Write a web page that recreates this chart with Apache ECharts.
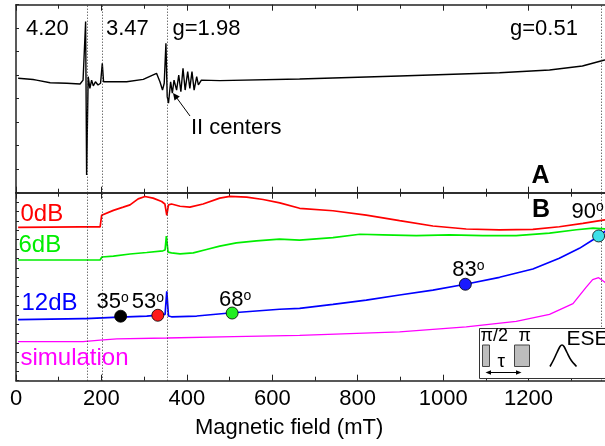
<!DOCTYPE html>
<html>
<head>
<meta charset="utf-8">
<script src="https://cdn.jsdelivr.net/npm/echarts@6/dist/echarts.min.js"></script>
<style>html,body{margin:0;padding:0;background:#fff}#c{width:605px;height:446px}</style>
</head>
<body>
<div id="c"></div>
<script>
// ---- data (field in mT, intensity in a.u.) ----
const xTicks = [0, 200, 400, 600, 800, 1000, 1200, 1400];
const gFactorFields = [166, 201, 353, 1369];
const traceCW = [[5,60.9],[40,60.2],[44,60.7],[48,59.9],[80,58.5],[119,58.2],[150,57.8],[157,59.9],[163,91.0],[165.3,9.4],[169,61.7],[173,55.5],[177,59.9],[181,56.8],[186,59.0],[192,57.3],[198,58.2],[202,68.8],[205,59.0],[259,59.0],[298,60.3],[329,63.5],[337,59.0],[343,54.6],[347,58.2],[351,79.5],[354,51.1],[357,47.6],[362,59.0],[366,52.9],[370,59.9],[376,54.6],[381,62.6],[386,53.7],[391,66.2],[396,54.6],[402,64.4],[407,55.5],[412,64.4],[417,54.6],[423,61.7],[427,57.3],[434,59.9],[477,59.6],[664,60.5],[898,62.1],[1132,63.8],[1249,65.3],[1326,67.4],[1378,70.6],[1400,72.0]];
const trace0dB = [[5,81.6],[150,81.8],[197,81.8],[200.5,88.0],[228,90.6],[251,92.3],[267,93.5],[286,96.7],[302,98.0],[321,97.1],[341,95.3],[348.5,94.0],[353,88.0],[357,93.5],[364,94.0],[384,92.8],[407,92.3],[438,94.0],[477,97.1],[500.6,98.0],[540,97.6],[578.5,96.4],[617.5,94.6],[664,91.7],[742,90.4],[820,88.1],[898,85.1],[976,82.3],[1054,80.7],[1132,80.2],[1210,80.5],[1272,81.9],[1327,83.7],[1378,85.5],[1400,86.5]];
const trace6dB = [[5,64.2],[197,64.2],[201,65.8],[228,66.3],[267,67.4],[306,68.2],[344,69.1],[349,69.5],[352,76.9],[356,68.4],[364,68.0],[384,67.5],[415,68.0],[446,69.8],[477,71.6],[516,73.3],[563,74.4],[586,74.8],[617,75.3],[664,74.8],[742,76.1],[805,77.9],[859,77.6],[937,77.2],[1015,77.6],[1093,77.2],[1171,77.2],[1249,78.5],[1312,80.3],[1351,81.2],[1378,80.8],[1400,80.5]];
const trace12dB = [[5,32.5],[157,33.0],[163,33.0],[166,33.6],[228,33.7],[306,34.4],[344,35.1],[349,35.2],[353,47.5],[357,34.4],[364,34.0],[423,34.4],[500,36.0],[617,38.0],[664,38.5],[742,40.6],[820,42.9],[898,45.6],[976,48.2],[1052,51.3],[1132,55.0],[1210,59.4],[1272,65.1],[1319,70.4],[1350,74.8],[1364,77.0],[1378,79.3],[1400,82.0]];
const traceSim = [[5,20.8],[157,20.8],[197,21.6],[236,22.3],[353,22.7],[509,23.4],[664,24.1],[898,26.0],[976,27.3],[1054,28.6],[1171,31.6],[1249,35.3],[1304,41.0],[1335,49.8],[1350,53.8],[1364,54.8],[1378,52.5],[1400,48.0]];
const angleFields = [245, 332, 506, 1052, 1364];
const angleIntensity = [34.3, 34.8, 36.0, 51.3, 77.0];
const angleLabels = ['35', '53', '68', '83', '90'];

// ---- styles ----
const FONT = "'Liberation Sans', Arial, sans-serif";
const markerColors = ['#000000', '#ff1a1a', '#22ee22', '#1a1aff', '#3ee0e8'];
const labelOffsets = [[-8, -14], [-10, -13.5], [3, -13], [3, -14.5], [-11, -24.5]];
const AXC = '#222';

const chart = echarts.init(document.getElementById('c'), null, {renderer: 'canvas'});

function xAx(grid, pos, labels) {
  return {
    type: 'value', gridIndex: grid, position: pos, min: 0, max: 1400, interval: 200,
    axisLine: {show: true, onZero: false, lineStyle: {color: AXC, width: 1.5}},
    axisTick: {show: true, inside: true, length: 6, lineStyle: {color: AXC, width: 1}},
    minorTick: {show: true, splitNumber: 2, length: 4, lineStyle: {color: AXC, width: 1}},
    splitLine: {show: false}, minorSplitLine: {show: false},
    axisLabel: labels ? {show: true, fontSize: 22, color: '#000', fontFamily: FONT, margin: 7, showMaxLabel: false,
      formatter: v => xTicks.includes(v) ? String(v) : ''} : {show: false}
  };
}
function yAx(grid, interval) {
  return {
    type: 'value', gridIndex: grid, min: 0, max: 100, interval: interval,
    axisLine: {show: true, onZero: false, lineStyle: {color: AXC, width: 1.5}},
    axisTick: {show: true, inside: true, length: 3, lineStyle: {color: AXC, width: 1}},
    axisLabel: {show: false}, splitLine: {show: false}
  };
}
function lineSeries(data, color, xi, yi, w) {
  return {type: 'line', data: data, xAxisIndex: xi, yAxisIndex: yi, symbol: 'none', silent: true,
    lineStyle: {color: color, width: w}, z: 3};
}
const dotted = {
  silent: true, symbol: ['none', 'none'], label: {show: false},
  lineStyle: {type: [1, 2], color: '#333', width: 1},
  data: gFactorFields.map(v => ({xAxis: v}))
};
function txt(text, x, y, size, color, bold) {
  return {type: 'text', x: x, y: y, z: 10, style: {text: text, fill: color, font: (bold ? 'bold ' : '') + size + 'px ' + FONT,
    align: 'left', textAlign: 'left', verticalAlign: 'middle', textVerticalAlign: 'middle'}};
}

const cw = lineSeries(traceCW, '#000', 0, 0, 1.4); cw.markLine = dotted;
const s0 = lineSeries(trace0dB, '#ff0000', 2, 1, 1.7); s0.markLine = dotted;

const option = {
  animation: false,
  backgroundColor: '#fff',
  grid: [
    {left: 16, width: 598, top: 4.7, height: 188, outerBoundsMode: 'none', containLabel: false},
    {left: 16, width: 598, top: 192.7, height: 188, outerBoundsMode: 'none', containLabel: false}
  ],
  xAxis: [xAx(0, 'bottom', false), xAx(0, 'top', false), xAx(1, 'bottom', true), xAx(1, 'top', false)],
  yAxis: [yAx(0, 12.5), yAx(1, 5)],
  series: [
    cw, s0,
    lineSeries(trace6dB, '#00ee00', 2, 1, 1.7),
    lineSeries(trace12dB, '#0000ff', 2, 1, 1.7),
    lineSeries(traceSim, '#ff00ff', 2, 1, 1.3),
    {
      type: 'scatter', xAxisIndex: 2, yAxisIndex: 1, symbolSize: 12, z: 5, silent: true,
      itemStyle: {opacity: 1},
      data: angleFields.map((f, i) => ({
        value: [f, angleIntensity[i]],
        itemStyle: {color: markerColors[i], borderColor: '#000', borderWidth: 0.8, opacity: 1},
        label: {show: true, position: 'inside', offset: labelOffsets[i], color: '#000', textBorderWidth: 0, opacity: 1,
          formatter: '{n|' + angleLabels[i] + '}{s|o}',
          rich: {n: {fontSize: 22, fontFamily: FONT, color: '#000', textBorderWidth: 0, lineHeight: 22},
                 s: {fontSize: 14, fontFamily: FONT, color: '#000', textBorderWidth: 0, verticalAlign: 'top', lineHeight: 14, padding: [0, 0, 6, 0]}}}
      }))
    }
  ],
  graphic: [
    txt('4.20', 26, 28.5, 22, '#000'),
    txt('3.47', 106, 28.5, 22, '#000'),
    txt('g=1.98', 172.5, 28.5, 22, '#000'),
    txt('g=0.51', 510, 29, 22, '#000'),
    txt('II centers', 191, 128, 22, '#000'),
    {type: 'line', z: 10, shape: {x1: 190, y1: 116, x2: 175, y2: 95.5}, style: {stroke: '#000', lineWidth: 1}},
    {type: 'polygon', z: 10, shape: {points: [[173, 93], [179.8, 96.6], [174.5, 100.4]]}, style: {fill: '#000'}},
    txt('A', 531.5, 176, 25, '#000', true),
    txt('B', 532, 210.5, 25, '#000', true),
    txt('0dB', 20.5, 214.5, 24, '#ff0000'),
    txt('6dB', 18.5, 245.5, 24, '#00ee00'),
    txt('12dB', 21.5, 303, 24, '#0000ff'),
    txt('simulation', 20.5, 358.5, 24, '#ff00ff'),
    txt('Magnetic field (mT)', 195, 428, 22, '#000'),
    // inset: pulse sequence
    {type: 'rect', z: 8, shape: {x: 479.5, y: 328.5, width: 140, height: 50}, style: {fill: '#fff', stroke: '#333', lineWidth: 1}},
    {type: 'rect', z: 9, shape: {x: 482.5, y: 345, width: 7, height: 21.5}, style: {fill: '#bdbdbd', stroke: '#444', lineWidth: 1}},
    {type: 'rect', z: 9, shape: {x: 514.5, y: 345, width: 15, height: 21.5}, style: {fill: '#bdbdbd', stroke: '#444', lineWidth: 1}},
    txt('π/2', 480.5, 336.5, 18, '#000'),
    txt('π', 518.5, 336.5, 18, '#000'),
    txt('τ', 497.5, 362, 19, '#000'),
    txt('ESE', 566.5, 339.5, 21, '#000'),
    {type: 'line', z: 9, shape: {x1: 489, y1: 372.5, x2: 518, y2: 372.5}, style: {stroke: '#000', lineWidth: 1}},
    {type: 'polygon', z: 9, shape: {points: [[485.5, 372.5], [491, 370.3], [491, 374.7]]}, style: {fill: '#000'}},
    {type: 'polygon', z: 9, shape: {points: [[521.5, 372.5], [516, 370.3], [516, 374.7]]}, style: {fill: '#000'}},
    {type: 'polyline', z: 9, shape: {points: [[550, 366.5], [553.5, 360], [557, 352.5], [560, 346.5], [562, 345], [564, 346.5], [567, 352.5], [571, 360], [576.5, 366.5]], smooth: 0.3},
      style: {stroke: '#000', lineWidth: 1.6, fill: null}}
  ]
};
chart.setOption(option);
</script>
</body>
</html>
